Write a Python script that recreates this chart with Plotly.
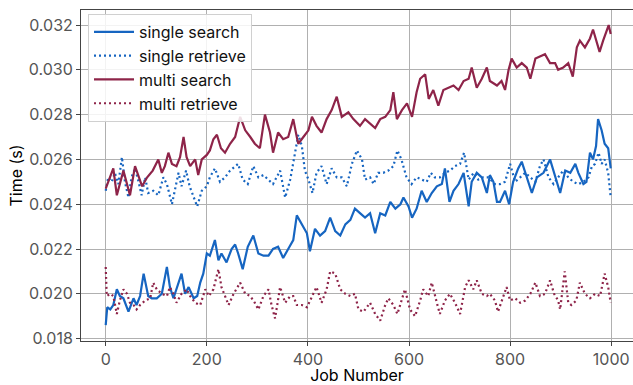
import plotly.graph_objects as go

# ---- data (job number, time in seconds) ----
single_search_jobs = [0, 3, 9, 15, 22, 28, 35, 45, 55, 61, 68, 75, 84, 91, 101, 111, 121, 127, 134, 140,
                      150, 157, 164, 174, 181, 187, 193, 200, 206, 216, 223, 229, 239, 249, 256, 262, 271, 281, 292, 302,
                      312, 322, 331, 341, 351, 361, 371, 378, 388, 398, 404, 414, 424, 434, 444, 454, 464, 474, 484, 493,
                      503, 513, 523, 533, 543, 553, 563, 573, 583, 589, 599, 606, 615, 625, 635, 645, 655, 665, 671, 680,
                      688, 698, 708, 718, 724, 734, 744, 754, 760, 767, 774, 780, 790, 798, 806, 816, 823, 833, 843, 853,
                      866, 879, 889, 899, 909, 919, 929, 935, 945, 951, 958, 964, 970, 974, 981, 987, 994, 999]
single_search_time = [0.0186, 0.0194, 0.0193, 0.0195, 0.0202, 0.0199, 0.0198, 0.0192, 0.0198, 0.0195, 0.0199, 0.0209, 0.0199, 0.0198, 0.0198, 0.0200, 0.0212, 0.0203, 0.0198, 0.0202,
                      0.0209, 0.0200, 0.0203, 0.0198, 0.0199, 0.0205, 0.0209, 0.0218, 0.0217, 0.0224, 0.0215, 0.0218, 0.0214, 0.0220, 0.0222, 0.0218, 0.0211, 0.0221, 0.0226, 0.0218,
                      0.0217, 0.0217, 0.0220, 0.0221, 0.0216, 0.0220, 0.0224, 0.0235, 0.0231, 0.0227, 0.0219, 0.0229, 0.0226, 0.0228, 0.0234, 0.0228, 0.0226, 0.0231, 0.0233, 0.0238,
                      0.0236, 0.0234, 0.0236, 0.0227, 0.0236, 0.0235, 0.0241, 0.0238, 0.0240, 0.0243, 0.0239, 0.0234, 0.0238, 0.0246, 0.0241, 0.0245, 0.0248, 0.0249, 0.0256, 0.0241,
                      0.0246, 0.0249, 0.0254, 0.0239, 0.0250, 0.0254, 0.0252, 0.0245, 0.0253, 0.0250, 0.0241, 0.0241, 0.0246, 0.0240, 0.0250, 0.0256, 0.0259, 0.0252, 0.0245, 0.0252,
                      0.0254, 0.0260, 0.0252, 0.0245, 0.0255, 0.0254, 0.0258, 0.0254, 0.0249, 0.0250, 0.0263, 0.0260, 0.0266, 0.0278, 0.0273, 0.0267, 0.0265, 0.0256]

single_retrieve_jobs = [0, 5, 12, 18, 25, 32, 38, 45, 51, 58, 65, 71, 78, 84, 94, 104, 114, 121, 131, 137,
                        144, 150, 159, 166, 174, 181, 190, 200, 206, 216, 226, 236, 246, 256, 262, 271, 281, 292, 302, 312,
                        322, 331, 345, 355, 365, 375, 381, 388, 394, 401, 409, 417, 427, 437, 447, 457, 467, 477, 487, 497,
                        507, 513, 523, 530, 539, 549, 559, 569, 577, 585, 595, 605, 615, 625, 635, 643, 651, 661, 671, 681,
                        691, 701, 709, 718, 728, 737, 747, 757, 770, 780, 790, 800, 810, 820, 830, 840, 850, 859, 866, 876,
                        886, 895, 905, 915, 925, 935, 945, 955, 962, 968, 975, 981, 987, 994, 999]
single_retrieve_time = [0.0246, 0.0252, 0.0250, 0.0254, 0.0249, 0.0261, 0.0250, 0.0243, 0.0252, 0.0256, 0.0250, 0.0244, 0.0252, 0.0245, 0.0246, 0.0244, 0.0252, 0.0249, 0.0240, 0.0246,
                        0.0254, 0.0248, 0.0255, 0.0248, 0.0243, 0.0239, 0.0246, 0.0248, 0.0252, 0.0256, 0.0250, 0.0252, 0.0255, 0.0257, 0.0258, 0.0251, 0.0249, 0.0257, 0.0252, 0.0253,
                        0.0251, 0.0249, 0.0255, 0.0243, 0.0251, 0.0263, 0.0271, 0.0266, 0.0255, 0.0251, 0.0245, 0.0254, 0.0257, 0.0249, 0.0256, 0.0252, 0.0252, 0.0248, 0.0258, 0.0264,
                        0.0260, 0.0251, 0.0252, 0.0249, 0.0254, 0.0254, 0.0255, 0.0257, 0.0264, 0.0260, 0.0252, 0.0249, 0.0252, 0.0251, 0.0250, 0.0254, 0.0252, 0.0252, 0.0254, 0.0255,
                        0.0257, 0.0258, 0.0263, 0.0251, 0.0254, 0.0251, 0.0252, 0.0252, 0.0249, 0.0249, 0.0250, 0.0258, 0.0250, 0.0252, 0.0254, 0.0252, 0.0250, 0.0257, 0.0260, 0.0252,
                        0.0249, 0.0252, 0.0255, 0.0252, 0.0250, 0.0249, 0.0250, 0.0252, 0.0257, 0.0258, 0.0263, 0.0258, 0.0260, 0.0254, 0.0243]

multi_search_jobs = [0, 15, 22, 35, 48, 58, 72, 82, 93, 104, 111, 117, 124, 131, 140, 147, 154, 160, 167, 177,
                     183, 190, 200, 206, 213, 220, 228, 236, 246, 256, 266, 276, 286, 295, 305, 315, 325, 331, 341, 351,
                     361, 371, 378, 381, 391, 401, 408, 417, 427, 437, 447, 457, 467, 480, 490, 503, 513, 523, 533, 543,
                     553, 563, 569, 576, 586, 596, 606, 615, 622, 632, 639, 648, 658, 668, 678, 688, 698, 708, 718, 724,
                     734, 744, 754, 760, 767, 774, 783, 790, 797, 803, 813, 823, 833, 840, 850, 859, 869, 879, 889, 895,
                     905, 915, 924, 932, 938, 948, 958, 964, 971, 977, 984, 991, 995, 999]
multi_search_time = [0.0247, 0.0256, 0.0244, 0.0255, 0.0244, 0.0257, 0.0248, 0.0252, 0.0255, 0.0260, 0.0254, 0.0257, 0.0263, 0.0258, 0.0257, 0.0261, 0.0270, 0.0261, 0.0257, 0.0260,
                     0.0253, 0.0260, 0.0262, 0.0264, 0.0269, 0.0271, 0.0265, 0.0263, 0.0267, 0.0270, 0.0279, 0.0273, 0.0270, 0.0267, 0.0265, 0.0280, 0.0272, 0.0263, 0.0272, 0.0269,
                     0.0270, 0.0278, 0.0270, 0.0267, 0.0270, 0.0273, 0.0279, 0.0275, 0.0272, 0.0278, 0.0282, 0.0288, 0.0279, 0.0281, 0.0278, 0.0275, 0.0278, 0.0276, 0.0274, 0.0278,
                     0.0279, 0.0282, 0.0290, 0.0278, 0.0282, 0.0285, 0.0279, 0.0290, 0.0296, 0.0298, 0.0287, 0.0291, 0.0284, 0.0291, 0.0292, 0.0293, 0.0291, 0.0295, 0.0296, 0.0301,
                     0.0292, 0.0296, 0.0301, 0.0295, 0.0294, 0.0293, 0.0295, 0.0291, 0.0300, 0.0305, 0.0301, 0.0303, 0.0301, 0.0296, 0.0305, 0.0306, 0.0307, 0.0303, 0.0303, 0.0300,
                     0.0301, 0.0303, 0.0297, 0.0310, 0.0313, 0.0310, 0.0314, 0.0318, 0.0313, 0.0308, 0.0313, 0.0318, 0.0320, 0.0316]

multi_retrieve_jobs = [0, 2, 9, 15, 22, 28, 35, 42, 48, 55, 61, 68, 78, 88, 94, 101, 111, 121, 127, 134,
                       140, 150, 160, 167, 177, 187, 197, 204, 213, 223, 229, 236, 243, 253, 266, 276, 286, 295, 302, 312,
                       322, 328, 335, 345, 355, 365, 371, 378, 388, 398, 408, 417, 427, 437, 444, 454, 464, 474, 484, 493,
                       500, 510, 523, 533, 543, 553, 559, 569, 577, 585, 592, 602, 612, 622, 628, 638, 645, 655, 661, 671,
                       681, 691, 701, 711, 718, 727, 734, 744, 754, 760, 770, 776, 787, 793, 800, 810, 820, 830, 840, 850,
                       859, 869, 879, 887, 895, 899, 908, 915, 921, 931, 938, 948, 958, 968, 978, 987, 994, 999]
multi_retrieve_time = [0.0212, 0.0199, 0.0200, 0.0199, 0.0191, 0.0197, 0.0202, 0.0200, 0.0196, 0.0195, 0.0193, 0.0195, 0.0197, 0.0198, 0.0205, 0.0202, 0.0200, 0.0199, 0.0203, 0.0200,
                       0.0196, 0.0200, 0.0202, 0.0199, 0.0196, 0.0195, 0.0202, 0.0199, 0.0202, 0.0211, 0.0203, 0.0199, 0.0195, 0.0200, 0.0205, 0.0200, 0.0199, 0.0196, 0.0193, 0.0199,
                       0.0202, 0.0195, 0.0189, 0.0203, 0.0196, 0.0199, 0.0199, 0.0195, 0.0195, 0.0194, 0.0199, 0.0203, 0.0196, 0.0202, 0.0210, 0.0209, 0.0202, 0.0200, 0.0199, 0.0200,
                       0.0193, 0.0192, 0.0196, 0.0191, 0.0188, 0.0195, 0.0198, 0.0195, 0.0191, 0.0197, 0.0202, 0.0193, 0.0190, 0.0197, 0.0202, 0.0199, 0.0205, 0.0196, 0.0191, 0.0197,
                       0.0200, 0.0196, 0.0191, 0.0203, 0.0206, 0.0202, 0.0206, 0.0200, 0.0199, 0.0200, 0.0197, 0.0192, 0.0199, 0.0203, 0.0197, 0.0198, 0.0196, 0.0197, 0.0200, 0.0205,
                       0.0199, 0.0200, 0.0206, 0.0200, 0.0197, 0.0193, 0.0210, 0.0196, 0.0195, 0.0197, 0.0205, 0.0200, 0.0198, 0.0200, 0.0199, 0.0209, 0.0203, 0.0196]

y_ticks = [0.018, 0.020, 0.022, 0.024, 0.026, 0.028, 0.030, 0.032]
x_ticks = [0, 200, 400, 600, 800, 1000]

BLUE = "#1665c1"
MAROON = "#8e2449"
FONT = "Inter, Lato, DejaVu Sans, sans-serif"

fig = go.Figure()
fig.add_trace(go.Scatter(x=single_search_jobs, y=single_search_time, mode="lines",
                         name="single search", line=dict(color=BLUE, width=2.2)))
fig.add_trace(go.Scatter(x=single_retrieve_jobs, y=single_retrieve_time, mode="lines",
                         name="single retrieve", line=dict(color=BLUE, width=2.2, dash="2px,3px")))
fig.add_trace(go.Scatter(x=multi_search_jobs, y=multi_search_time, mode="lines",
                         name="multi search", line=dict(color=MAROON, width=2.2)))
fig.add_trace(go.Scatter(x=multi_retrieve_jobs, y=multi_retrieve_time, mode="lines",
                         name="multi retrieve", line=dict(color=MAROON, width=2.2, dash="2px,3px")))

fig.update_layout(
    width=633, height=385,
    margin=dict(l=81, r=0, t=10, b=44, autoexpand=False),
    paper_bgcolor="white", plot_bgcolor="white",
    font=dict(family=FONT, size=16, color="#000000"),
    showlegend=True,
    legend=dict(x=0.0127, y=0.988, xanchor="left", yanchor="top",
                bgcolor="rgba(255,255,255,0.85)", bordercolor="#d0d0d0", borderwidth=1,
                font=dict(family=FONT, size=16, color="#111111"),
                tracegroupgap=0, itemwidth=40),
)
fig.update_xaxes(
    range=[-48.9, 1043.1], tickvals=x_ticks, ticktext=[str(v) for v in x_ticks],
    showgrid=True, gridcolor="#b0b0b0", gridwidth=1, zeroline=False,
    showline=True, linecolor="#444444", linewidth=1, mirror=True,
    ticks="outside", ticklen=4, tickcolor="#444444", automargin=False,
    tickfont=dict(family=FONT, size=16, color="#555555"),
    title=dict(text="Job Number", font=dict(family=FONT, size=16, color="#000000"), standoff=1),
)
fig.update_yaxes(
    range=[0.017893, 0.03267], tickvals=y_ticks, ticktext=["%.3f" % v for v in y_ticks],
    showgrid=True, gridcolor="#b0b0b0", gridwidth=1, zeroline=False,
    showline=True, linecolor="#444444", linewidth=1, mirror=False,
    ticks="outside", ticklen=4, tickcolor="#444444", automargin=False,
    tickfont=dict(family=FONT, size=16, color="#555555"),
    title=dict(text="Time (s)", font=dict(family=FONT, size=16, color="#000000"), standoff=2),
)

fig.write_html(
    "out.html",
    config={"displayModeBar": False},
    post_script="document.body.style.margin='0';document.body.style.overflow='hidden';",
)
